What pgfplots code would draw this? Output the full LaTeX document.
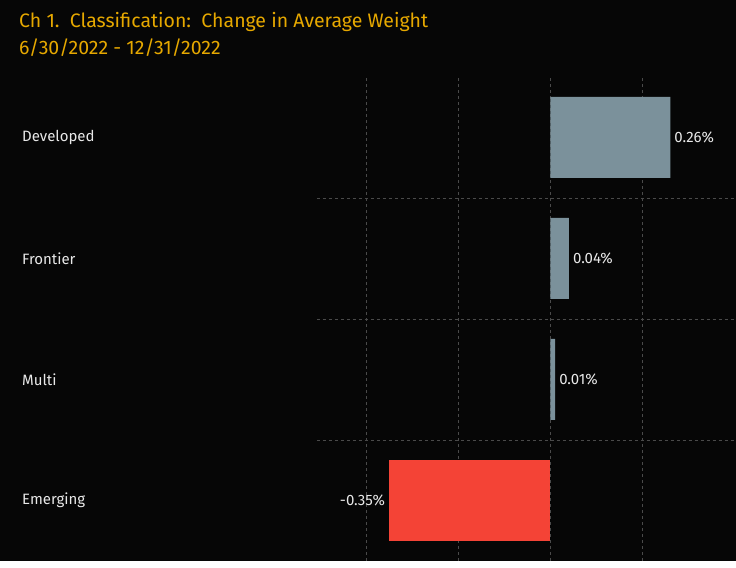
\documentclass[border=0pt]{standalone}
\usepackage{pgfplots}
\pgfplotsset{compat=1.18}
\usepackage{fontspec}
\setmainfont{Fira Sans}
\definecolor{bg}{HTML}{060606}
\definecolor{titlec}{HTML}{E6A800}
\definecolor{barg}{HTML}{7B919B}
\definecolor{barr}{HTML}{F44336}
\definecolor{gridc}{HTML}{4A4A4A}
\definecolor{txt}{HTML}{E8E8E8}
\begin{document}
\begin{tikzpicture}[x=1pt,y=1pt]
\fill[bg] (0,0) rectangle (736,561);
\node[anchor=base west, inner sep=0pt, text=titlec, font=\fontsize{19.5}{22}\selectfont] at (19,533) {Ch 1.\ \ Classification:\ \ Change in Average Weight};
\node[anchor=base west, inner sep=0pt, text=titlec, font=\fontsize{19.5}{22}\selectfont] at (19,506) {6/30/2022 - 12/31/2022};
\begin{axis}[
  at={(317pt,0pt)}, anchor=south west,
  scale only axis, width=419pt, height=484pt,
  xmin=-0.507, xmax=0.402, ymin=-0.5, ymax=3.5,
  axis line style={draw=none},
  major tick length=0pt, minor tick length=0pt,
  xtick={-0.4,-0.2,0,0.2}, xticklabels={},
  ytick={0,1,2,3}, yticklabels={Emerging,Multi,Frontier,Developed},
  minor ytick={0.5,1.5,2.5},
  xmajorgrids, yminorgrids,
  major grid style={gridc, dashed, line width=0.6pt},
  minor grid style={gridc, dashed, line width=0.6pt},
  yticklabel style={anchor=west, inner sep=0pt, xshift=-295pt, text=txt, font=\fontsize{15}{17}\selectfont},
  xbar, bar width=81pt, bar shift=0pt,
  point meta=x,
  nodes near coords={\pgfmathprintnumber[fixed,fixed zerofill,precision=2,assume math mode=true]{\pgfplotspointmeta}\%},
  nodes near coords align=horizontal,
  every node near coord/.append style={text=txt, font=\fontsize{15}{17}\selectfont, inner sep=4pt},
]
\addplot[fill=barg, draw=none] coordinates {(0.26,3) (0.04,2) (0.01,1)};
\addplot[fill=barr, draw=none] coordinates {(-0.35,0)};
\end{axis}
\end{tikzpicture}
\end{document}
